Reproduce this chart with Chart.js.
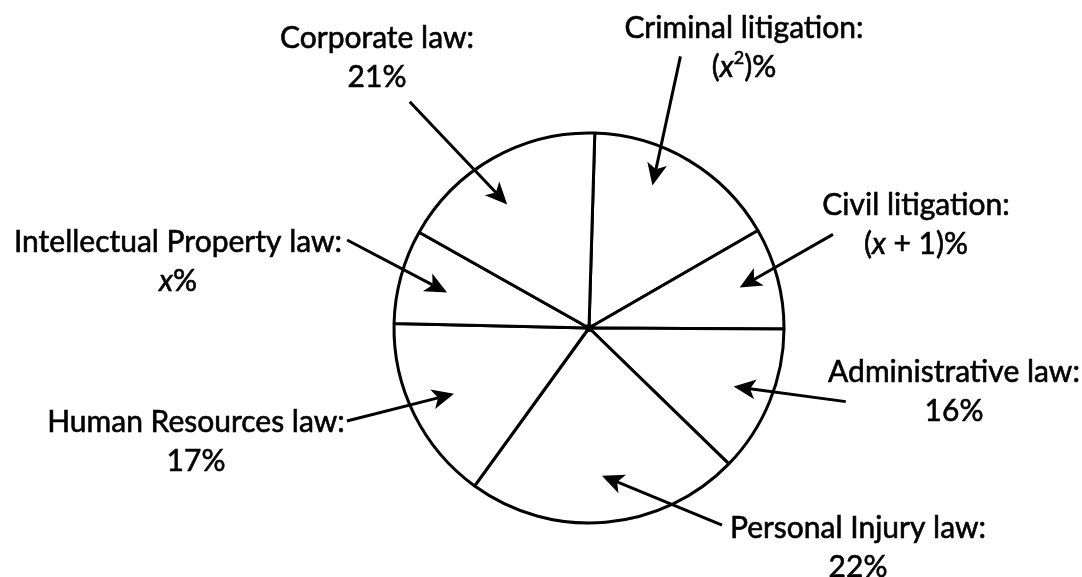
<!DOCTYPE html>
<html lang="en">
<head>
<meta charset="UTF-8">
<title>Areas of law</title>
<script src="https://cdn.jsdelivr.net/npm/chart.js"></script>
<style>
    html, body { margin: 0; padding: 0; background: #fff; }
    #chart-container { width: 1082px; height: 577px; }
</style>
</head>
<body>
<div id="chart-container">
    <canvas id="chart" width="1082" height="577"></canvas>
</div>
<script>
// slices go clockwise, starting at the spoke just right of twelve o'clock
var categories = ['Criminal litigation', 'Civil litigation', 'Administrative law', 'Personal Injury law',
                  'Human Resources law', 'Intellectual Property law', 'Corporate law'];
// share of the circle each slice takes as drawn (the figure is not to scale)
var drawnShares = [16.2, 8.4, 12.2, 22.7, 15.4, 7.8, 17.3];
// the value printed under each name: [text, style] pieces, 'i' = italic, 'sup' = superscript
var valueLabels = [
    [['('], ['x', 'i'], ['2', 'sup'], [')%']],
    [['('], ['x', 'i'], [' + 1)%']],
    [['16%']],
    [['22%']],
    [['17%']],
    [['x', 'i'], ['%']],
    [['21%']]
];

// annotation layout: arrow ends as [degrees from top, fraction of radius]
var arrowTips  = [[24, 0.80], [75, 0.80], [112, 0.80], [175, 0.76], [244, 0.77], [284, 0.75], [326.5, 0.76]];
var arrowTails = [[18.6, 1.47], [69, 1.34], [106, 1.37], [146, 1.22], [249, 1.33], [290, 1.32], [321.6, 1.48]];
// label centre, px from the pie centre
var labelOffsets = [[155, -300], [327, -123], [365, 44], [269, 200], [-393, 94], [-411, -86], [-212, -290]];

var FONT_SIZE = 30;
var FONT_FAMILY = 'Lato, "Open Sans", sans-serif';

function putText(ctx, s, x, y) {
    // a hairline stroke gives Lato a bit more weight, closer to the original face
    ctx.fillText(s, x, y);
    ctx.strokeText(s, x, y);
}

function drawRich(ctx, parts, x, y) {
    var fonts = parts.map(function(p) {
        if (p[1] === 'i') return 'italic ' + FONT_SIZE + 'px ' + FONT_FAMILY;
        if (p[1] === 'sup') return Math.round(FONT_SIZE * 0.6) + 'px ' + FONT_FAMILY;
        return FONT_SIZE + 'px ' + FONT_FAMILY;
    });
    var widths = parts.map(function(p, i) { ctx.font = fonts[i]; return ctx.measureText(p[0]).width; });
    var total = widths.reduce(function(a, b) { return a + b; }, 0);
    var cur = x - total / 2;
    ctx.textAlign = 'left';
    parts.forEach(function(p, i) {
        ctx.font = fonts[i];
        putText(ctx, p[0], cur, p[1] === 'sup' ? y - FONT_SIZE * 0.3 : y);
        cur += widths[i];
    });
}

var annotate = {
    id: 'annotate',
    afterDraw: function(chart) {
        var ctx = chart.ctx;
        var arc = chart.getDatasetMeta(0).data[0];
        var cx = arc.x, cy = arc.y, R = arc.outerRadius;
        function pt(p) {
            var a = p[0] * Math.PI / 180;
            return [cx + Math.sin(a) * R * p[1], cy - Math.cos(a) * R * p[1]];
        }
        ctx.save();
        ctx.fillStyle = '#000';
        ctx.strokeStyle = '#000';
        // dot at the centre
        ctx.beginPath();
        ctx.arc(cx, cy, 4, 0, 2 * Math.PI);
        ctx.fill();

        categories.forEach(function(name, i) {
            var tip = pt(arrowTips[i]), tail = pt(arrowTails[i]);
            var ang = Math.atan2(tip[1] - tail[1], tip[0] - tail[0]);
            var len = 22, half = 10;
            var ux = Math.cos(ang), uy = Math.sin(ang);
            var backX = tip[0] - ux * len, backY = tip[1] - uy * len;
            var notchX = tip[0] - ux * len * 0.75, notchY = tip[1] - uy * len * 0.75;

            ctx.lineWidth = 3;
            ctx.beginPath();
            ctx.moveTo(tail[0], tail[1]);
            ctx.lineTo(notchX, notchY);
            ctx.stroke();

            ctx.beginPath();
            ctx.moveTo(tip[0], tip[1]);
            ctx.lineTo(backX - uy * half, backY + ux * half);
            ctx.lineTo(notchX, notchY);
            ctx.lineTo(backX + uy * half, backY - ux * half);
            ctx.closePath();
            ctx.fill();

            var lx = cx + labelOffsets[i][0], ly = cy + labelOffsets[i][1];
            ctx.lineWidth = 0.6;
            ctx.font = FONT_SIZE + 'px ' + FONT_FAMILY;
            ctx.textAlign = 'center';
            ctx.textBaseline = 'middle';
            putText(ctx, name + ':', lx, ly);
            drawRich(ctx, valueLabels[i], lx, ly + 39);
        });
        ctx.restore();
    }
};

var chart = new Chart(document.getElementById('chart').getContext('2d'), {
    type: 'pie',
    data: {
        labels: categories,
        datasets: [{
            data: drawnShares,
            backgroundColor: '#ffffff',
            borderColor: '#000000',
            borderWidth: 3
        }]
    },
    options: {
        responsive: false,
        animation: false,
        events: [],
        devicePixelRatio: 1,
        rotation: 1.7,
        radius: 195,
        layout: { padding: { left: 96, right: 0, top: 79, bottom: 0 } },
        plugins: {
            legend: { display: false },
            tooltip: { enabled: false }
        }
    },
    plugins: [annotate]
});
</script>
</body>
</html>
